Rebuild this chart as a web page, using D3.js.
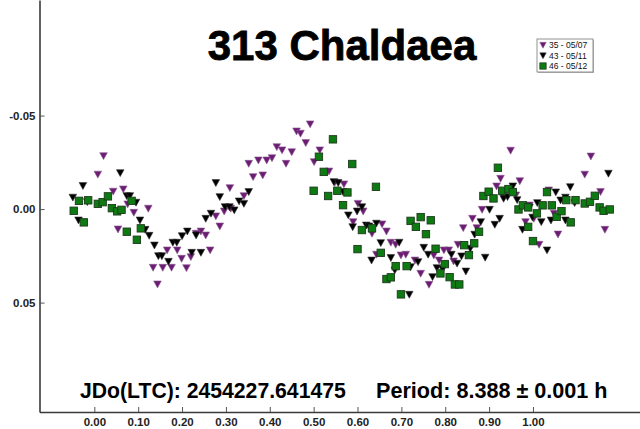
<!DOCTYPE html>
<html>
<head>
<meta charset="utf-8">
<script src="https://cdn.jsdelivr.net/npm/d3@7"></script>
<style>
  html, body { margin: 0; padding: 0; background: #fff; }
  svg { display: block; font-family: "Liberation Sans", Arial, sans-serif; }
</style>
</head>
<body>
<svg id="chart" width="640" height="429"></svg>
<script>
// Lightcurve of asteroid 313 Chaldaea: [phase, relative magnitude]
const session35 = [
  [0.021,-0.0285],[0.008,-0.0186],[0.043,-0.0095],[0.066,-0.0107],[0.076,-0.0027],[0.090,0.0018],
  [0.123,-0.0004],[0.054,0.0107],[0.166,0.0219],[0.134,0.0312],[0.156,0.0312],[0.176,0.0312],
  [0.144,0.0401],[0.416,-0.0333],[0.428,-0.0316],[0.352,-0.0244],[0.374,-0.0262],[0.393,-0.0262],
  [0.405,-0.0274],[0.437,-0.0244],[0.362,-0.0173],[0.384,-0.0182],[0.309,-0.0114],[0.341,-0.0071],
  [0.296,0.0011],[0.311,-0.0004],[0.277,0.0037],[0.286,0.0091],[0.243,0.0118],[0.254,0.0139],
  [0.232,0.0130],[0.189,0.0219],[0.199,0.0264],[0.220,0.0255],[0.264,0.0219],[0.210,0.0314],
  [0.492,-0.0455],[0.461,-0.0417],[0.470,-0.0405],[0.482,-0.0355],[0.450,-0.0306],[0.514,-0.0316],
  [0.501,-0.0253],[0.535,-0.0203],[0.548,-0.0143],[0.569,-0.0134],[0.601,-0.0030],[0.613,0.0011],
  [0.590,0.0068],[0.656,0.0080],[0.666,0.0118],[0.633,0.0130],[0.676,0.0178],[0.687,0.0189],
  [0.643,0.0242],[0.699,0.0246],[0.710,0.0242],[0.731,0.0273],[0.744,0.0344],[0.763,0.0403],
  [0.774,0.0246],[0.786,0.0273],[0.797,0.0219],[0.808,0.0219],[0.819,0.0278],[0.829,0.0189],
  [0.841,0.0100],[0.862,0.0050],[0.872,0.0100],[0.884,0.0002],[0.917,-0.0123],[0.949,-0.0314],
  [1.132,-0.0283],[1.118,-0.0186],[0.926,-0.0164],[0.970,-0.0151],[0.934,-0.0066],[0.961,-0.0075],
  [0.992,-0.0021],[1.036,-0.0102],[1.048,0.0023],[0.983,0.0068],[1.002,0.0050],[1.014,0.0189],
  [1.057,0.0134],[1.154,-0.0093],[1.164,0.0109]
];
const session43 = [
  [0.059,-0.0194],[-0.026,-0.0125],[-0.049,-0.0063],[-0.016,-0.0039],[-0.036,0.0059],[0.074,-0.0071],
  [0.081,-0.0071],[0.095,-0.0036],[0.104,0.0059],[0.116,0.0109],[0.125,0.0141],[0.137,0.0193],
  [0.146,0.0250],[0.154,0.0250],[0.169,0.0280],[0.179,0.0178],[0.188,0.0178],[0.277,-0.0141],
  [0.286,-0.0066],[0.352,-0.0093],[0.330,-0.0043],[0.341,-0.0030],[0.298,-0.0012],[0.308,-0.0012],
  [0.319,0.0005],[0.266,0.0023],[0.254,0.0050],[0.212,0.0118],[0.200,0.0143],[0.232,0.0139],
  [0.222,0.0232],[0.243,0.0232],[0.546,-0.0146],[0.556,-0.0141],[0.567,-0.0093],[0.610,-0.0012],
  [0.599,0.0011],[0.579,0.0032],[0.589,0.0095],[0.620,0.0086],[0.626,0.0091],[0.643,0.0076],
  [0.653,0.0180],[0.632,0.0273],[0.676,0.0260],[0.695,0.0178],[0.685,0.0326],[0.718,0.0456],
  [0.751,0.0205],[0.761,0.0242],[0.738,0.0282],[0.721,0.0309],[0.781,0.0314],[0.794,0.0321],
  [0.814,0.0242],[0.827,0.0290],[0.837,0.0251],[0.857,0.0210],[0.847,0.0332],[0.771,0.0362],
  [0.867,0.0135],[0.881,0.0068],[0.901,0.0002],[0.913,0.0082],[0.924,0.0050],[0.891,0.0258],
  [0.933,-0.0057],[1.172,-0.0191],[1.085,-0.0119],[1.052,-0.0091],[0.954,-0.0123],[0.942,-0.0066],
  [0.964,-0.0050],[1.010,-0.0034],[0.992,-0.0009],[0.999,0.0044],[1.019,0.0068],[1.041,0.0059],
  [1.074,0.0059],[0.976,0.0109],[1.074,-0.0063],[1.095,-0.0034],[1.063,-0.0048],[1.032,0.0219]
];
const session46 = [
  [-0.035,-0.0044],[-0.014,-0.0047],[-0.047,0.0009],[-0.024,0.0071],[0.008,-0.0028],[0.019,-0.0037],
  [0.031,-0.0068],[0.040,-0.0005],[0.052,0.0012],[0.062,0.0004],[0.085,-0.0044],[0.074,0.0121],
  [0.106,0.0103],[0.097,0.0164],[0.544,-0.0373],[0.588,-0.0241],[0.512,-0.0280],[0.523,-0.0199],
  [0.642,-0.0119],[0.500,-0.0098],[0.533,-0.0070],[0.554,-0.0098],[0.577,-0.0089],[0.567,-0.0021],
  [0.610,0.0112],[0.633,0.0103],[0.600,0.0214],[0.653,0.0234],[0.687,0.0305],[0.666,0.0374],
  [0.676,0.0365],[0.699,0.0456],[0.721,0.0063],[0.744,0.0043],[0.733,0.0095],[0.767,0.0060],
  [0.756,0.0134],[0.712,0.0305],[0.778,0.0212],[0.799,0.0294],[0.789,0.0344],[0.810,0.0364],
  [0.822,0.0403],[0.832,0.0403],[0.843,0.0193],[0.854,0.0246],[0.866,0.0183],[0.877,0.0121],
  [0.887,-0.0070],[0.899,-0.0093],[0.910,-0.0057],[0.930,-0.0098],[0.920,-0.0221],[0.944,-0.0107],
  [0.954,-0.0091],[0.967,0.0002],[0.977,-0.0020],[0.989,-0.0009],[1.009,0.0023],[1.032,-0.0091],
  [1.022,-0.0020],[1.043,-0.0020],[1.054,0.0041],[1.065,0.0011],[1.076,-0.0048],[1.097,-0.0048],
  [1.086,0.0071],[1.118,-0.0030],[1.130,-0.0039],[1.141,-0.0071],[1.152,-0.0009],[1.161,0.0009],
  [1.175,0.0002],[0.989,0.0095],[1.000,0.0171]
];

const seriesNames = ["35 - 05/07", "43 - 05/11", "46 - 05/12"];
const seriesData = [session35, session43, session46];
const seriesColors = ["#6c1c74", "#000000", "#0e7a12"];
const seriesShapes = ["tri", "tri", "square"];

const xTicks = [0, 0.1, 0.2, 0.3, 0.4, 0.5, 0.6, 0.7, 0.8, 0.9, 1.0];
const yTicks = [-0.05, 0, 0.05];

const titleText = "313 Chaldaea";
const epochText = "JDo(LTC): 2454227.641475";
const periodText = "Period: 8.388 \u00b1 0.001 h";

const svg = d3.select("#chart");

const x = d3.scaleLinear().domain([-0.125, 1.244]).range([39.5, 640]);
const y = d3.scaleLinear().domain([-0.1118, 0.1085]).range([0, 412]);

// Axes: ticks point into the plot, labels use a plain hyphen for negatives
const fmt = v => d3.format(".2f")(v).replace("\u2212", "-");
const yAxis = svg.append("g").attr("transform", "translate(39.5,0)")
  .call(d3.axisLeft(y).tickValues(yTicks).tickFormat(fmt).tickSize(-5).tickSizeOuter(0).tickPadding(4));
const xAxis = svg.append("g").attr("transform", "translate(0,412)")
  .call(d3.axisBottom(x).tickValues(xTicks).tickFormat(fmt).tickSize(-5).tickSizeOuter(0).tickPadding(6));

[yAxis, xAxis].forEach(g => {
  g.select(".domain").attr("stroke", "#3a3a3a").attr("stroke-width", 1.6);
  g.selectAll(".tick line").attr("stroke", "#555").attr("stroke-width", 1);
  g.selectAll(".tick text").attr("fill", "#222").attr("font-size", 11.5).attr("font-weight", "bold")
    .attr("font-family", "'Liberation Sans', Arial, sans-serif");
});

// Marker shapes
const triPath = "M-3.8,-3.1 L3.8,-3.1 L0,3.8 Z";
function drawMarker(sel, shape, color) {
  if (shape === "tri") {
    sel.append("path").attr("d", triPath).attr("fill", color)
      .attr("stroke", color === "#000000" ? "#333" : "#8a5a8e").attr("stroke-width", 0.6);
  } else {
    sel.append("rect").attr("x", -3.7).attr("y", -3.7).attr("width", 7.4).attr("height", 7.4)
      .attr("fill", color).attr("stroke", "#1c3a1c").attr("stroke-width", 0.9);
  }
}

const plot = svg.append("g");
seriesData.forEach((data, i) => {
  const g = plot.append("g");
  data.forEach(d => {
    const m = g.append("g").attr("transform", `translate(${x(d[0])},${y(d[1])})`);
    drawMarker(m, seriesShapes[i], seriesColors[i]);
  });
});

// Title
svg.append("text").attr("x", 342).attr("y", 60).attr("text-anchor", "middle")
  .attr("font-size", 42).attr("font-weight", "bold").attr("fill", "#000")
  .attr("stroke", "#000").attr("stroke-width", 0.8)
  .text(titleText);

// Epoch / period line
svg.append("text").attr("x", 80).attr("y", 398)
  .attr("font-size", 21.2).attr("font-weight", "bold").attr("fill", "#000").text(epochText);
svg.append("text").attr("x", 376).attr("y", 398)
  .attr("font-size", 21.6).attr("font-weight", "bold").attr("fill", "#000").text(periodText);

// Legend
const legend = svg.append("g").attr("transform", "translate(537,39)");
legend.append("rect").attr("x", 1).attr("y", 1).attr("width", 56).attr("height", 33)
  .attr("fill", "#bbb");
legend.append("rect").attr("x", 0).attr("y", 0).attr("width", 56).attr("height", 33)
  .attr("fill", "#fff").attr("stroke", "#777").attr("stroke-width", 0.8);
seriesNames.forEach((name, i) => {
  const row = legend.append("g").attr("transform", `translate(6,${6 + i * 10.5})`);
  const m = row.append("g").attr("transform", "scale(0.85)");
  drawMarker(m, seriesShapes[i], seriesColors[i]);
  row.append("text").attr("x", 6).attr("y", 3).attr("font-size", 8.5).attr("fill", "#111")
    .text(name);
});
</script>
</body>
</html>
